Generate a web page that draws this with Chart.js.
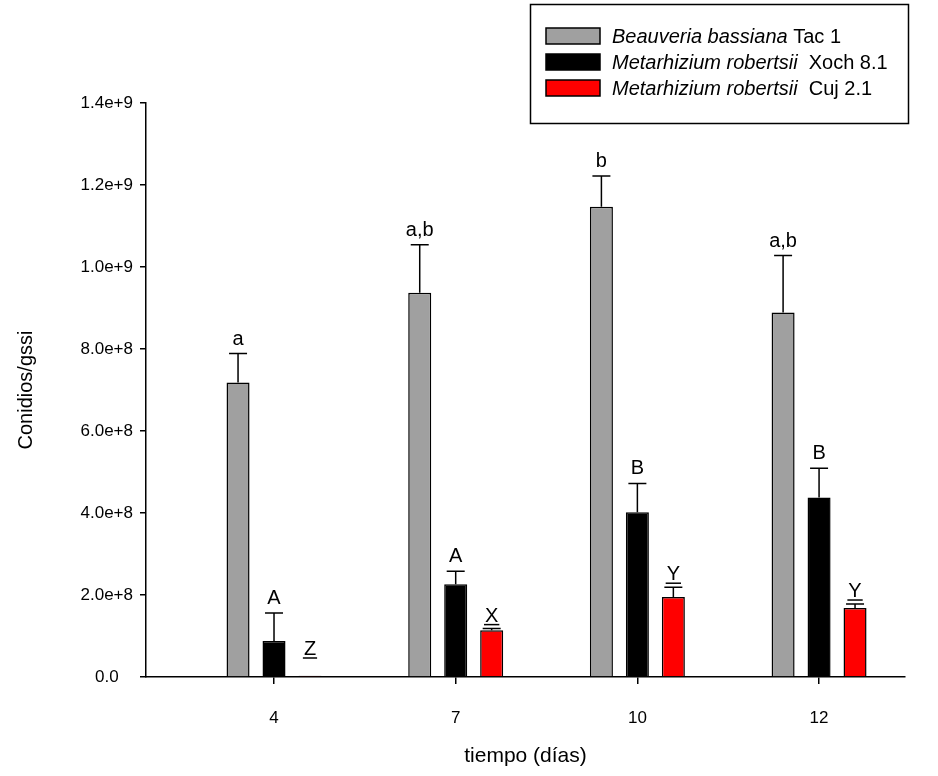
<!DOCTYPE html>
<html>
<head>
<meta charset="utf-8">
<script src="https://cdn.jsdelivr.net/npm/chart.js@4/dist/chart.umd.min.js"></script>
<style>
  html, body { margin: 0; padding: 0; background: #fff; }
  #wrap { width: 938px; height: 776px; }
</style>
</head>
<body>
<div id="wrap"><canvas id="grafica"></canvas></div>
<script>
const dias = ["4", "7", "10", "12"];

const beauveriaTac1 = [7.18e8, 9.37e8, 11.47e8, 8.89e8];
const beauveriaErr = [0.71e8, 1.17e8, 0.75e8, 1.39e8];
const beauveriaLetras = ["a", "a,b", "b", "a,b"];

const metaXoch = [0.88e8, 2.26e8, 4.02e8, 4.38e8];
const metaXochErr = [0.68e8, 0.32e8, 0.70e8, 0.71e8];
const metaXochLetras = ["A", "A", "B", "B"];

const metaCuj = [0.03e8, 1.14e8, 1.95e8, 1.68e8];
const metaCujErr = [0, 0.04e8, 0.24e8, 0.10e8];
const metaCujLetras = ["Z", "X", "Y", "Y"];

const yTicks = [0, 2e8, 4e8, 6e8, 8e8, 10e8, 12e8, 14e8];

const FONT = '"Liberation Sans", Arial, sans-serif';

const series = [
  { italic: "Beauveria bassiana", rest: " Tac 1", data: beauveriaTac1, err: beauveriaErr, letras: beauveriaLetras, color: "#a0a0a0", subrayar: false },
  { italic: "Metarhizium robertsii", rest: "  Xoch 8.1", data: metaXoch, err: metaXochErr, letras: metaXochLetras, color: "#000000", subrayar: false },
  { italic: "Metarhizium robertsii", rest: "  Cuj 2.1", data: metaCuj, err: metaCujErr, letras: metaCujLetras, color: "#ff0000", subrayar: true }
];

// barras de error (solo hacia arriba) + letras de significancia
const errorBarsPlugin = {
  id: "errorBars",
  afterDatasetsDraw(chart) {
    const ctx = chart.ctx;
    const yScale = chart.scales.y;
    const y0 = yScale.getPixelForValue(0);
    ctx.save();
    ctx.strokeStyle = "#000";
    ctx.fillStyle = "#000";
    ctx.lineWidth = 1.5;
    ctx.font = `20px ${FONT}`;
    ctx.textAlign = "center";
    ctx.textBaseline = "alphabetic";
    chart.data.datasets.forEach((ds, di) => {
      const meta = chart.getDatasetMeta(di);
      meta.data.forEach((bar, i) => {
        const v = ds.data[i].y;
        const e = ds.err[i];
        const top = yScale.getPixelForValue(v);
        const capY = yScale.getPixelForValue(v + e);
        if (e > 0) {
          ctx.beginPath();
          ctx.moveTo(bar.x, top);
          ctx.lineTo(bar.x, capY);
          ctx.moveTo(bar.x - 9, capY);
          ctx.lineTo(bar.x + 9, capY);
          ctx.stroke();
        }
        const txt = ds.letras[i];
        if (!txt) return;
        let base;
        if (ds.subrayar) {
          const ul = Math.min(capY - 4, y0 - 19);
          base = ul - 3;
          const w = ctx.measureText(txt).width;
          ctx.beginPath();
          ctx.moveTo(bar.x - w / 2 - 1, ul);
          ctx.lineTo(bar.x + w / 2 + 1, ul);
          ctx.stroke();
        } else {
          base = capY - 9;
        }
        ctx.fillText(txt, bar.x, base);
      });
    });
    ctx.restore();
  }
};

// leyenda con nombres en cursiva
const legendBoxPlugin = {
  id: "legendBox",
  afterDraw(chart) {
    const ctx = chart.ctx;
    ctx.save();
    ctx.strokeStyle = "#000";
    ctx.lineWidth = 1.5;
    ctx.strokeRect(530.5, 4.5, 378, 119);
    ctx.textBaseline = "middle";
    ctx.textAlign = "left";
    series.forEach((s, i) => {
      const cy = 36 + i * 26;
      ctx.fillStyle = s.color;
      ctx.fillRect(546, cy - 8, 54, 16);
      ctx.lineWidth = 1.5;
      ctx.strokeRect(546, cy - 8, 54, 16);
      ctx.fillStyle = "#000";
      ctx.font = `italic 20px ${FONT}`;
      ctx.fillText(s.italic, 612, cy + 1);
      const w = ctx.measureText(s.italic).width;
      ctx.font = `20px ${FONT}`;
      ctx.fillText(s.rest, 612 + w, cy + 1);
    });
    ctx.restore();
  }
};

new Chart(document.getElementById("grafica"), {
  type: "bar",
  data: {
    datasets: series.map((s) => ({
      label: s.italic + s.rest,
      data: s.data.map((v, i) => ({ x: i, y: v })),
      err: s.err,
      letras: s.letras,
      subrayar: s.subrayar,
      backgroundColor: s.color,
      borderColor: "#000",
      borderWidth: 1.5,
      categoryPercentage: 0.594,
      barPercentage: 0.64
    }))
  },
  options: {
    responsive: true,
    maintainAspectRatio: false,
    animation: false,
    layout: { padding: { top: 103, right: 33, left: 0, bottom: 0 } },
    plugins: {
      legend: { display: false },
      tooltip: { enabled: false }
    },
    scales: {
      x: {
        type: "linear",
        min: -0.7046,
        max: 3.473,
        offset: false,
        afterBuildTicks: (s) => { s.ticks = dias.map((_, i) => ({ value: i })); },
        afterFit: (s) => { s.height = 99; },
        grid: { display: true, offset: false, drawOnChartArea: false, drawTicks: true, tickLength: 7, color: "#000", lineWidth: 1.5 },
        border: { display: true, color: "#000", width: 1.5 },
        ticks: {
          color: "#000",
          padding: 24,
          maxRotation: 0,
          font: { family: FONT, size: 17 },
          callback: (v) => dias[v] ?? ""
        },
        title: {
          display: true,
          text: "tiempo (días)",
          color: "#000",
          font: { family: FONT, size: 21 },
          padding: { top: 0, bottom: 7 }
        }
      },
      y: {
        min: 0,
        max: 1.4e9,
        afterBuildTicks: (s) => { s.ticks = yTicks.map((v) => ({ value: v })); },
        afterFit: (s) => { s.width = 146; },
        grid: { display: true, drawOnChartArea: false, drawTicks: true, tickLength: 6, color: "#000", lineWidth: 1.5 },
        border: { display: true, color: "#000", width: 1.5 },
        ticks: {
          color: "#000",
          padding: 7,
          crossAlign: "center",
          font: { family: FONT, size: 17 },
          callback: (v) => (v === 0 ? "0.0" : Number(v).toExponential(1))
        },
        title: {
          display: true,
          text: "Conidios/gssi",
          color: "#000",
          font: { family: FONT, size: 20 },
          padding: { top: 14, bottom: 0 }
        }
      }
    }
  },
  plugins: [errorBarsPlugin, legendBoxPlugin]
});
</script>
</body>
</html>
